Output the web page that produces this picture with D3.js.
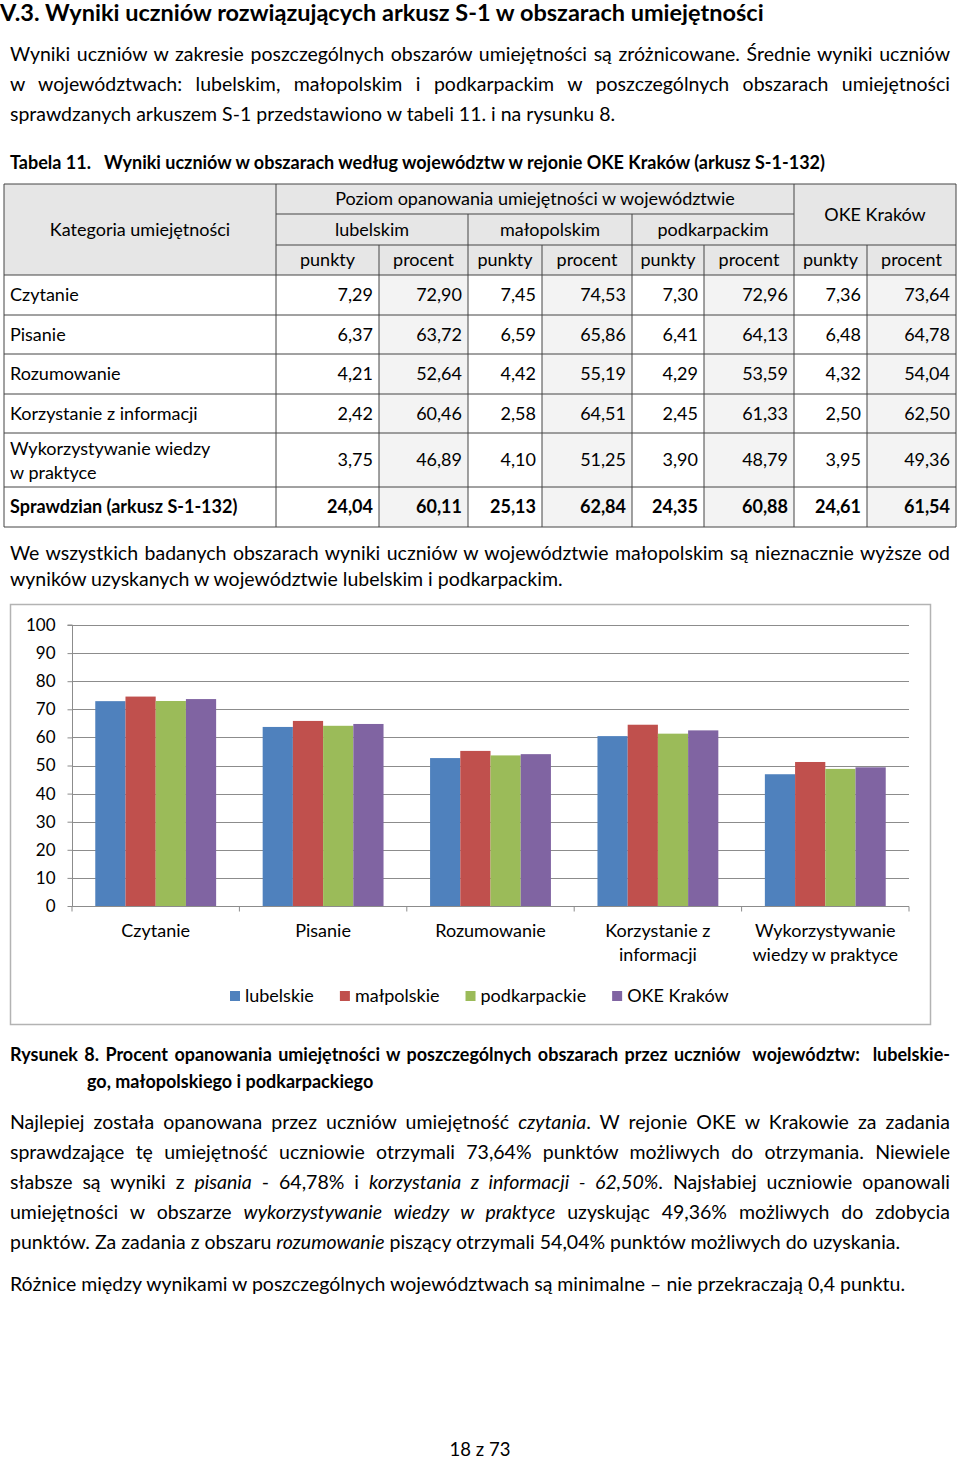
<!DOCTYPE html>
<html>
<head>
<meta charset="utf-8">
<script src="https://cdn.jsdelivr.net/npm/d3@7"></script>
<style>
  body { margin: 0; background: #fff; }
  #page { position: relative; width: 960px; height: 1459px; font-family: Lato, "Open Sans", sans-serif; color: #000; }
  #page svg { position: absolute; left: 0; top: 0; }
  .ln { position: absolute; left: 10px; width: 940px; height: 30px; line-height: 30px; font-size: 19.5px; white-space: nowrap; }
  .j { text-align: justify; text-align-last: justify; white-space: normal; }
  .b { font-weight: bold; }
</style>
</head>
<body>
<div id="page">
  <svg id="chart" width="960" height="1459"></svg>

  <div class="ln b" style="left:0;top:0;height:24px;line-height:24px;font-size:23.5px;">V.3. Wyniki uczniów rozwiązujących arkusz S-1 w obszarach umiejętności</div>

  <div class="ln j" style="top:39px;">Wyniki uczniów w zakresie poszczególnych obszarów umiejętności są zróżnicowane. Średnie wyniki uczniów</div>
  <div class="ln j" style="top:69px;">w województwach: lubelskim, małopolskim i podkarpackim w poszczególnych obszarach umiejętności</div>
  <div class="ln" style="top:99px;">sprawdzanych arkuszem S-1 przedstawiono w tabeli 11. i na rysunku 8.</div>

  <div class="ln b" style="top:147px;font-size:18px;">Tabela 11.&nbsp;&nbsp; Wyniki uczniów w obszarach według województw w rejonie OKE Kraków (arkusz S-1-132)</div>

  <div class="ln j" style="top:538px;">We wszystkich badanych obszarach wyniki uczniów w województwie małopolskim są nieznacznie wyższe od</div>
  <div class="ln" style="top:564px;">wyników uzyskanych w województwie lubelskim i podkarpackim.</div>

  <div class="ln b j" style="top:1039px;font-size:18px;">Rysunek 8. Procent opanowania umiejętności w poszczególnych obszarach przez uczniów&nbsp; województw:&nbsp; lubelskie-</div>
  <div class="ln b" style="left:87px;top:1066px;font-size:18px;">go, małopolskiego i podkarpackiego</div>

  <div class="ln j" style="top:1107px;">Najlepiej została opanowana przez uczniów umiejętność <i>czytania</i>. W rejonie OKE w Krakowie za zadania</div>
  <div class="ln j" style="top:1137px;">sprawdzające tę umiejętność uczniowie otrzymali 73,64% punktów możliwych do otrzymania. Niewiele</div>
  <div class="ln j" style="top:1167px;">słabsze są wyniki z <i>pisania</i> - 64,78% i <i>korzystania z informacji - 62,50%</i>. Najsłabiej uczniowie opanowali</div>
  <div class="ln j" style="top:1197px;">umiejętności w obszarze <i>wykorzystywanie wiedzy w praktyce</i> uzyskując 49,36% możliwych do zdobycia</div>
  <div class="ln" style="top:1227px;">punktów. Za zadania z obszaru <i>rozumowanie</i> piszący otrzymali 54,04% punktów możliwych do uzyskania.</div>

  <div class="ln" style="top:1269px;">Różnice między wynikami w poszczególnych województwach są minimalne – nie przekraczają 0,4 punktu.</div>

  <div class="ln" style="left:0;width:960px;text-align:center;top:1434px;font-size:18.5px;">18 z 73</div>
</div>

<script>
// ---- data ----
var categories = ["Czytanie", "Pisanie", "Rozumowanie", "Korzystanie z informacji", "Wykorzystywanie wiedzy w praktyce"];
var tableRows = ["Czytanie", "Pisanie", "Rozumowanie", "Korzystanie z informacji", "Wykorzystywanie wiedzy|w praktyce", "Sprawdzian (arkusz S-1-132)"];
var chartLabels = [["Czytanie"], ["Pisanie"], ["Rozumowanie"], ["Korzystanie z", "informacji"], ["Wykorzystywanie", "wiedzy w praktyce"]];
var seriesNames = ["lubelskie", "małpolskie", "podkarpackie", "OKE Kraków"];
var seriesColors = ["#4f81bd", "#c0504d", "#9bbb59", "#8064a2"];

var lubelskiePkt = [7.29, 6.37, 4.21, 2.42, 3.75, 24.04];
var lubelskiePct = [72.90, 63.72, 52.64, 60.46, 46.89, 60.11];
var malopolskiePkt = [7.45, 6.59, 4.42, 2.58, 4.10, 25.13];
var malopolskiePct = [74.53, 65.86, 55.19, 64.51, 51.25, 62.84];
var podkarpackiePkt = [7.30, 6.41, 4.29, 2.45, 3.90, 24.35];
var podkarpackiePct = [72.96, 64.13, 53.59, 61.33, 48.79, 60.88];
var okePkt = [7.36, 6.48, 4.32, 2.50, 3.95, 24.61];
var okePct = [73.64, 64.78, 54.04, 62.50, 49.36, 61.54];

var yTicks = [0, 10, 20, 30, 40, 50, 60, 70, 80, 90, 100];

var svg = d3.select("#chart");
var font = "Lato, 'Open Sans', sans-serif";
var fmt = function(v) { return d3.format(".2f")(v).replace(".", ","); };

// ---- table ----
var colX = [4, 276, 379, 468, 542, 632, 704, 794, 867, 956];
var rowY = [184, 214, 245, 275, 315, 354, 394, 433, 487, 527];
var tbl = svg.append("g").style("font-family", font).style("font-size", "18px");

function cell(x0, x1, y0, y1, fill) {
    tbl.append("rect").attr("x", x0).attr("y", y0)
        .attr("width", x1 - x0).attr("height", y1 - y0)
        .attr("fill", fill);
}
// header backgrounds
cell(colX[0], colX[9], rowY[0], rowY[3], "#e6e6e6");
// procent columns slightly grey
[2, 4, 6, 8].forEach(function(c) { cell(colX[c], colX[c + 1], rowY[3], rowY[9], "#f3f3f3"); });

function txt(x, y, s, anchor, bold) {
    tbl.append("text").attr("x", x).attr("y", y).attr("dy", "0.35em")
        .attr("text-anchor", anchor || "middle")
        .style("font-weight", bold ? "bold" : null)
        .text(s);
}
txt((colX[0] + colX[1]) / 2, (rowY[0] + rowY[3]) / 2, "Kategoria umiejętności");
txt((colX[1] + colX[7]) / 2, (rowY[0] + rowY[1]) / 2, "Poziom opanowania umiejętności w województwie");
txt((colX[7] + colX[9]) / 2, (rowY[0] + rowY[2]) / 2, "OKE Kraków");
var regionHead = ["lubelskim", "małopolskim", "podkarpackim"];
regionHead.forEach(function(r, i) {
    txt((colX[1 + 2 * i] + colX[3 + 2 * i]) / 2, (rowY[1] + rowY[2]) / 2, r);
});
for (var c = 1; c < 9; c++) {
    txt((colX[c] + colX[c + 1]) / 2, (rowY[2] + rowY[3]) / 2, c % 2 ? "punkty" : "procent");
}
var cols = [lubelskiePkt, lubelskiePct, malopolskiePkt, malopolskiePct, podkarpackiePkt, podkarpackiePct, okePkt, okePct];
tableRows.forEach(function(name, r) {
    var y0 = rowY[3 + r], y1 = rowY[4 + r], bold = r === tableRows.length - 1;
    var parts = name.split("|");
    if (parts.length === 1) {
        txt(colX[0] + 6, (y0 + y1) / 2, name, "start", bold);
    } else {
        txt(colX[0] + 6, (y0 + y1) / 2 - 11, parts[0], "start", bold);
        txt(colX[0] + 6, (y0 + y1) / 2 + 13, parts[1], "start", bold);
    }
    cols.forEach(function(arr, k) {
        txt(colX[k + 2] - 6, (y0 + y1) / 2, fmt(arr[r]), "end", bold);
    });
});
// grid lines
var lineCol = "#444";
function hl(x0, x1, y) { tbl.append("line").attr("x1", x0).attr("x2", x1).attr("y1", y).attr("y2", y).attr("stroke", lineCol).attr("stroke-width", 1); }
function vl(x, y0, y1) { tbl.append("line").attr("x1", x).attr("x2", x).attr("y1", y0).attr("y2", y1).attr("stroke", lineCol).attr("stroke-width", 1); }
hl(colX[0], colX[9], rowY[0]);
hl(colX[1], colX[7], rowY[1]);
hl(colX[1], colX[9], rowY[2]);
for (var r = 3; r < rowY.length; r++) hl(colX[0], colX[9], rowY[r]);
vl(colX[0], rowY[0], rowY[9]);
vl(colX[1], rowY[0], rowY[9]);
vl(colX[7], rowY[0], rowY[9]);
vl(colX[9], rowY[0], rowY[9]);
[3, 5].forEach(function(c) { vl(colX[c], rowY[1], rowY[9]); });
[2, 4, 6, 8].forEach(function(c) { vl(colX[c], rowY[2], rowY[9]); });

// ---- chart ----
svg.append("rect").attr("x", 10.5).attr("y", 604.5).attr("width", 920).attr("height", 420)
    .attr("fill", "none").attr("stroke", "#b3b3b3").attr("stroke-width", 1.5);

var plotL = 72, plotR = 909, plotT = 625, plotB = 906;
var x0 = d3.scaleBand().domain(categories).range([plotL, plotR]);
var bw = x0.bandwidth();
var x1 = d3.scaleBand().domain(seriesNames).range([bw * 0.139, bw * 0.861]);
var y = d3.scaleLinear().domain([0, 100]).range([plotB, plotT]);

var g = svg.append("g").style("font-family", font).style("font-size", "18px");

// gridlines
g.append("g").selectAll("line").data(yTicks.slice(1)).enter().append("line")
    .attr("x1", plotL).attr("x2", plotR)
    .attr("y1", function(d) { return Math.round(y(d)) + 0.5; })
    .attr("y2", function(d) { return Math.round(y(d)) + 0.5; })
    .attr("stroke", "#8c8c8c").attr("stroke-width", 1);

var seriesPct = [lubelskiePct, malopolskiePct, podkarpackiePct, okePct];
var barData = [];
categories.forEach(function(cat, i) {
    seriesNames.forEach(function(s, k) {
        barData.push({ cat: cat, s: s, k: k, v: seriesPct[k][i] });
    });
});
g.append("g").selectAll("rect").data(barData).enter().append("rect")
    .attr("x", function(d) { return x0(d.cat) + x1(d.s); })
    .attr("width", x1.bandwidth())
    .attr("y", function(d) { return y(d.v); })
    .attr("height", function(d) { return plotB - y(d.v); })
    .attr("fill", function(d) { return seriesColors[d.k]; });

// y axis
var yAxis = d3.axisLeft(y).tickValues(yTicks).tickSize(5).tickPadding(12).tickFormat(d3.format("d"));
var ya = g.append("g").attr("transform", "translate(" + (plotL + 0.5) + ",0)").call(yAxis);
ya.select(".domain").attr("stroke", "#8c8c8c").attr("d", "M-5," + plotT + "H0V" + plotB);
ya.selectAll(".tick line").attr("stroke", "#8c8c8c");
ya.selectAll("text").style("font-family", font).style("font-size", "17px").attr("fill", "#000");

// x axis
var xa = g.append("g").attr("transform", "translate(0," + (plotB + 0.5) + ")");
xa.append("line").attr("x1", plotL).attr("x2", plotR).attr("stroke", "#8c8c8c");
xa.selectAll(".xt").data(categories.concat(["_end"])).enter().append("line")
    .attr("x1", function(d) { return d === "_end" ? plotR : x0(d); })
    .attr("x2", function(d) { return d === "_end" ? plotR : x0(d); })
    .attr("y1", 0).attr("y2", 5).attr("stroke", "#8c8c8c");

var lab = g.append("g").selectAll("text").data(categories).enter().append("text")
    .attr("text-anchor", "middle")
    .attr("x", function(d) { return x0(d) + bw / 2; })
    .attr("y", 931).attr("dy", "0.35em");
lab.each(function(d, i) {
    var t = d3.select(this);
    chartLabels[i].forEach(function(l, j) {
        t.append("tspan").attr("x", x0(d) + bw / 2).attr("dy", j === 0 ? "0.35em" : "24px").text(l);
    });
});

// legend
var lx = 230;
var leg = g.append("g");
seriesNames.forEach(function(s, k) {
    leg.append("rect").attr("x", lx).attr("y", 991).attr("width", 10).attr("height", 10).attr("fill", seriesColors[k]);
    var t = leg.append("text").attr("x", lx + 15).attr("y", 996).attr("dy", "0.35em").text(s);
    lx += 15 + t.node().getComputedTextLength() + 26;
});
</script>
</body>
</html>
